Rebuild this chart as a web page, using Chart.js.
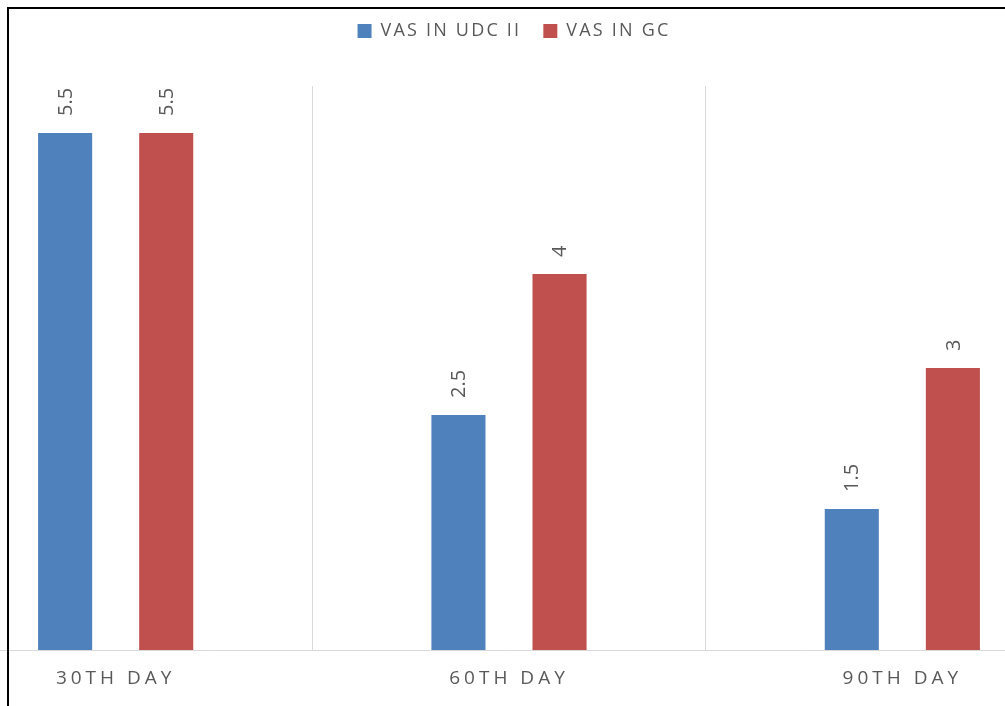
<!DOCTYPE html>
<html>
<head>
<meta charset="utf-8">
<script src="https://cdn.jsdelivr.net/npm/chart.js@4"></script>
<style>
    html, body {
        margin: 0;
        padding: 0;
        background: #fff;
    }
    .frame {
        position: relative;
        width: 1005px;
        height: 706px;
        overflow: hidden;
    }
    .wrap {
        position: absolute;
        left: -81px;
        top: 0;
        width: 1180px;
        height: 706px;
    }
    .edge-left {
        position: absolute;
        left: 7px;
        top: 7px;
        width: 2px;
        height: 699px;
        background: #000;
    }
    .edge-top {
        position: absolute;
        left: 7px;
        top: 7px;
        width: 998px;
        height: 2px;
        background: #000;
    }
</style>
</head>
<body>
<div class="frame">
    <div class="wrap"><canvas id="vasChart"></canvas></div>
    <div class="edge-left"></div>
    <div class="edge-top"></div>
</div>

<script>
// data
const days = ["30TH DAY", "60TH DAY", "90TH DAY"];
const vasUdc = [5.5, 2.5, 1.5];
const vasGc = [5.5, 4, 3];
const seriesNames = ["VAS IN UDC II", "VAS IN GC"];

const textGray = "#595959";

// the legend text is spaced out a bit, and there is extra room under it
const legendTweaks = {
    id: "legendTweaks",
    beforeInit(chart) {
        const fit = chart.legend.fit;
        chart.legend.fit = function () {
            fit.bind(chart.legend)();
            this.height += 36;
        };
    },
    beforeUpdate(chart) {
        chart.ctx.letterSpacing = "2.2px";
    },
    afterLayout(chart) {
        chart.legend.left += 5;
        chart.legend.right += 5;
    },
    beforeDraw(chart) {
        chart.ctx.letterSpacing = "2.2px";
    }
};

// value labels (rotated) and spaced-out category labels
const labelPlugin = {
    id: "labelPlugin",
    afterDatasetsDraw(chart) {
        const ctx = chart.ctx;

        chart.data.datasets.forEach((ds, i) => {
            const meta = chart.getDatasetMeta(i);
            meta.data.forEach((bar, j) => {
                ctx.save();
                ctx.letterSpacing = "0px";
                ctx.translate(bar.x, bar.y - 17);
                ctx.rotate(-Math.PI / 2);
                ctx.font = "20px 'Open Sans'";
                ctx.fillStyle = textGray;
                ctx.textAlign = "left";
                ctx.textBaseline = "middle";
                ctx.fillText(String(ds.data[j]), 0, 1);
                ctx.restore();
            });
        });

        const xScale = chart.scales.x;
        ctx.save();
        ctx.font = "19px 'Open Sans'";
        ctx.fillStyle = textGray;
        ctx.textAlign = "center";
        ctx.textBaseline = "middle";
        ctx.letterSpacing = "4px";
        days.forEach((d, i) => {
            ctx.fillText(d, xScale.getPixelForValue(i), 679);
        });
        ctx.restore();
    }
};

const canvas = document.getElementById("vasChart");

new Chart(canvas, {
    type: "bar",
    data: {
        labels: days,
        datasets: [
            {
                label: seriesNames[0],
                data: vasUdc,
                backgroundColor: "#4F81BD"
            },
            {
                label: seriesNames[1],
                data: vasGc,
                backgroundColor: "#C0504D"
            }
        ]
    },
    options: {
        responsive: true,
        maintainAspectRatio: false,
        animation: false,
        categoryPercentage: 0.514,
        barPercentage: 0.535,
        layout: {
            padding: { top: 0, left: 0, right: 0, bottom: 0 }
        },
        plugins: {
            legend: {
                position: "top",
                labels: {
                    boxWidth: 14,
                    boxHeight: 14,
                    padding: 22,
                    color: textGray,
                    font: { family: "'Open Sans'", size: 18 }
                }
            },
            tooltip: { enabled: false }
        },
        scales: {
            x: {
                grid: {
                    offset: true,
                    color: "#d9d9d9",
                    drawTicks: false
                },
                border: { color: "#d9d9d9" },
                ticks: { display: false },
                afterFit: (scale) => {
                    scale.height = 56;
                }
            },
            y: {
                display: false,
                min: 0,
                max: 6
            }
        }
    },
    plugins: [legendTweaks, labelPlugin]
});
</script>
</body>
</html>
